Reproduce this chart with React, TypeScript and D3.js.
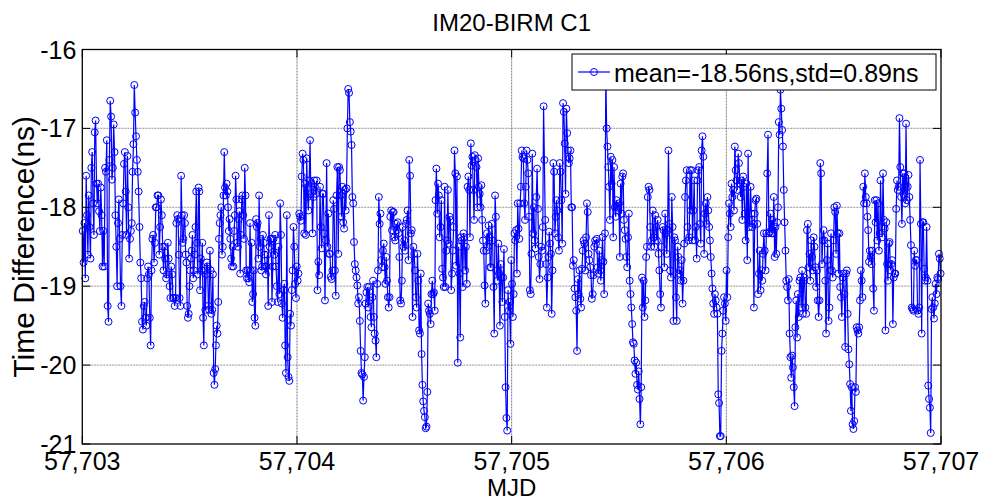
import React from "react";
import * as d3 from "d3";

const title = "IM20-BIRM C1";
const xLabel = "MJD";
const yLabel = "Time Difference(ns)";
const legendText = "mean=-18.56ns,std=0.89ns";
const xTicks = [57703, 57704, 57705, 57706, 57707];
const yTicks = [-21, -20, -19, -18, -17, -16];
const mjdStart = 57703;
const mjdEnd = 57707;

// Time difference values (ns), read segment by segment (9 equal MJD segments)
const seg0 = [-18.3, -18.7, -18.2, -18.9, -17.6, -18.1, -18.6, -17.85, -18.25, -18.65, -17.5, -17.3, -17.95, -18.35, -17.05, -16.9, -17.7, -17.95, -17.7, -18.05, -18.3, -17.75, -18.1, -18.75, -18.3, -18.75, -17.5, -17.55, -17.15, -19.25, -19.45, -17.4, -16.65, -16.85, -17.65, -17.5, -16.95, -17.3, -18.1, -18.5, -19.0, -18.2, -17.9, -18.4, -19.0, -19.25, -18.35, -17.95, -17.45, -17.3, -17.8, -18.35, -17.35, -18.0, -18.65, -18.4, -18.3, -18.2, -17.55, -17.2, -16.45, -16.8, -17.1, -17.4, -17.55, -17.8, -18.25, -18.7, -18.9, -19.45, -19.55, -19.25, -19.2, -19.4, -19.5, -18.9, -18.75, -18.85, -19.4, -19.75, -18.8, -18.4, -18.35, -18.7, -18.45, -18.0, -18.0, -17.85, -17.85, -18.6, -18.25, -17.9, -18.1, -18.5, -18.8, -18.5, -18.65, -18.9, -18.85, -18.45, -18.65, -19.0, -19.15, -18.75, -18.85, -19.15, -19.15, -19.25, -19.15, -18.2, -18.1];
const seg1 = [-18.15, -18.6, -19.15, -19.25, -17.6, -18.1, -18.45, -18.4, -18.1, -18.2, -18.6, -18.7, -19.25, -19.4, -19.35, -19.0, -18.8, -18.65, -18.55, -18.35, -18.9, -18.8, -18.6, -18.25, -17.8, -18.45, -18.85, -17.75, -17.8, -19.05, -18.65, -18.8, -18.45, -19.4, -19.75, -18.8, -19.3, -18.85, -18.7, -18.75, -19.25, -19.3, -18.55, -18.8, -19.35, -19.3, -18.85, -20.1, -20.25, -20.05, -19.75, -19.5, -19.6, -19.2, -18.4, -18.2, -18.1, -18.0, -18.6, -18.5, -17.85, -17.3, -17.75, -17.85, -17.7, -17.8, -18.0, -18.3, -18.15, -18.4, -18.65, -18.75, -18.5, -18.75, -18.3, -18.1, -17.6, -17.9, -18.45, -18.5, -18.15, -18.05, -18.84, -18.35, -17.9, -17.85, -18.1, -18.4, -17.5, -17.85, -18.8, -18.9, -18.8, -18.9, -18.95, -18.2, -18.8, -18.45, -19.2, -19.1, -18.8, -19.4, -19.5, -18.15, -18.25, -18.2, -18.65, -17.85, -18.5, -18.4, -18.8, -18.75, -18.35, -18.45, -18.6, -18.75, -18.85, -18.75, -18.6, -19.25, -18.1, -18.5, -18.4, -18.4, -19.2, -18.75];
const seg2 = [-18.4, -18.6, -18.35, -18.75, -19.0, -19.2, -18.5, -19.1, -17.95, -18.35, -19.22, -19.4, -19.05, -18.97, -19.75, -20.1, -18.1, -19.9, -20.15, -20.2, -19.35, -19.5, -19.05, -18.8, -18.25, -18.5, -18.97, -19.15, -18.75, -18.93, -18.84, -18.08, -18.12, -18.17, -17.61, -17.32, -17.4, -18.33, -17.7, -18.35, -17.38, -17.87, -18.04, -17.66, -17.15, -17.83, -17.7, -18.33, -17.87, -17.66, -17.74, -17.83, -17.66, -19.05, -18.69, -18.86, -17.74, -18.25, -18.52, -17.83, -17.83, -18.33, -19.18, -18.42, -17.44, -18.5, -18.08, -18.59, -18.59, -18.88, -18.91, -18.8, -17.91, -18.02, -18.8, -19.12, -17.85, -17.49, -18.59, -17.49, -17.53, -17.85, -18.12, -17.74, -18.19, -18.27, -17.78, -18.04, -17.76, -17.0, -16.5, -16.55, -16.92, -17.04, -17.21, -17.87, -17.95, -18.44, -18.72, -18.8, -18.89, -18.99, -19.22, -19.14, -19.44, -19.82, -20.1, -20.12, -20.45, -20.15, -19.9, -19.22, -19.08, -19.01, -19.27];
const seg3 = [-19.01, -19.18, -19.39, -19.52, -19.14, -18.93, -19.39, -19.6, -19.69, -19.9, -18.97, -18.8, -17.87, -18.21, -18.08, -18.67, -18.76, -18.55, -18.46, -18.76, -18.97, -18.63, -18.93, -19.14, -19.27, -19.14, -18.12, -18.04, -18.29, -18.06, -18.06, -18.38, -18.42, -18.21, -18.29, -18.19, -18.33, -18.63, -19.18, -19.22, -18.93, -18.25, -18.5, -18.42, -18.55, -18.21, -18.16, -18.04, -18.67, -17.4, -17.6, -18.33, -18.29, -19.39, -18.5, -18.59, -18.8, -19.14, -19.27, -18.59, -18.93, -19.56, -19.6, -18.84, -19.86, -20.25, -20.46, -20.58, -20.66, -20.8, -20.78, -20.34, -19.22, -19.31, -19.35, -19.48, -19.1, -18.93, -19.1, -19.08, -19.31, -17.91, -17.51, -18.08, -17.7, -17.85, -18.38, -18.25, -17.91, -18.78, -18.89, -19.01, -17.74, -19.01, -18.55, -18.42, -17.78, -18.46, -18.12, -18.16, -19.05, -18.84, -18.55, -18.25, -17.28, -17.57, -18.74, -17.61, -19.97, -18.5, -18.84, -19.65, -18.38, -18.42, -19.01, -18.33];
const seg4 = [-18.38, -18.8, -18.5, -18.97, -17.74, -17.61, -17.78, -18.38, -17.19, -17.47, -17.36, -17.78, -18.16, -17.34, -17.4, -17.49, -18.0, -17.38, -17.74, -17.83, -18.0, -17.72, -18.16, -18.42, -18.55, -18.99, -19.22, -18.55, -18.33, -18.5, -18.23, -18.38, -18.76, -18.76, -18.21, -18.42, -19.01, -19.6, -17.85, -18.12, -18.8, -18.93, -18.46, -18.84, -19.5, -18.72, -18.89, -19.2, -18.89, -18.53, -19.39, -20.28, -20.67, -20.83, -19.05, -19.31, -19.2, -19.73, -18.67, -18.97, -19.39, -19.1, -18.33, -18.42, -18.29, -18.84, -17.95, -18.27, -18.4, -17.95, -17.74, -17.28, -17.36, -17.38, -17.95, -18.16, -17.74, -17.28, -17.4, -17.57, -18.12, -19.05, -19.1, -18.59, -17.32, -18.33, -18.0, -18.42, -18.52, -17.87, -17.51, -18.02, -18.63, -18.91, -18.72, -18.5, -18.55, -18.25, -16.72, -17.4, -18.16, -18.72, -19.27, -18.89, -18.63, -18.31, -18.46, -18.59, -19.35, -18.8, -17.44, -17.55, -18.33, -18.12, -17.91, -18.04, -18.38, -18.55];
const seg5 = [-17.44, -17.55, -17.91, -18.46, -16.68, -16.79, -17.19, -17.83, -16.75, -17.06, -17.28, -17.44, -17.38, -17.28, -18.0, -18.0, -18.74, -18.67, -19.03, -19.14, -19.31, -19.82, -18.91, -19.1, -18.8, -19.16, -19.27, -18.78, -18.55, -18.42, -18.46, -18.8, -18.38, -17.95, -18.06, -18.59, -18.67, -18.76, -18.86, -19.16, -19.1, -18.86, -18.5, -18.42, -18.46, -18.4, -18.76, -18.84, -18.55, -18.8, -18.93, -18.67, -18.38, -18.69, -19.1, -18.33, -16.3, -17.0, -17.23, -17.49, -17.74, -18.16, -17.36, -17.7, -17.4, -18.38, -17.49, -18.0, -18.12, -17.91, -18.0, -17.98, -17.95, -18.63, -17.7, -18.08, -17.61, -17.57, -18.16, -18.29, -18.4, -18.63, -18.76, -18.38, -18.08, -18.93, -19.1, -19.27, -19.48, -19.71, -19.73, -19.94, -20.11, -19.97, -20.25, -20.31, -20.08, -20.43, -20.75, -20.28, -18.89, -19.27, -18.93, -19.39, -19.18, -18.63, -18.5, -17.87, -17.74, -17.78, -18.25, -18.5, -18.42, -18.04, -18.38, -18.5];
const seg6 = [-18.1, -18.25, -18.42, -18.16, -18.59, -18.8, -19.1, -19.27, -18.5, -18.25, -18.29, -18.76, -18.08, -18.33, -18.59, -18.29, -17.28, -18.21, -18.8, -18.89, -17.87, -18.25, -19.44, -18.38, -18.42, -19.14, -19.44, -18.5, -18.63, -18.84, -18.8, -18.93, -18.67, -19.22, -18.93, -18.46, -17.87, -17.66, -17.53, -18.25, -18.42, -18.38, -17.53, -18.04, -17.53, -18.42, -18.04, -17.66, -18.42, -18.25, -18.65, -17.66, -17.53, -17.49, -18.21, -18.46, -17.28, -17.1, -17.36, -18.59, -18.08, -17.95, -18.21, -17.87, -18.04, -18.25, -18.42, -18.63, -18.84, -19.03, -19.22, -19.35, -19.1, -19.18, -19.27, -19.35, -20.37, -20.48, -20.9, -20.9, -19.82, -19.6, -19.31, -19.14, -19.22, -19.44, -18.8, -19.14, -18.38, -17.95, -18.08, -18.25, -17.7, -17.87, -17.78, -18.04, -17.23, -17.53, -17.66, -17.78, -17.32, -17.44, -17.7, -17.87, -17.66, -18.16, -17.61, -17.74, -18.08, -18.42, -17.7, -18.67, -17.32, -18.25, -18.16];
const seg7 = [-17.74, -18.08, -18.25, -18.21, -19.27, -18.08, -17.91, -17.89, -18.21, -19.1, -18.84, -18.55, -19.05, -18.8, -18.93, -18.59, -18.33, -18.55, -18.8, -18.33, -17.57, -17.08, -18.33, -18.31, -18.08, -18.33, -18.16, -18.33, -17.87, -18.63, -18.25, -18.59, -18.19, -18.0, -16.92, -17.08, -16.51, -16.75, -17.02, -17.23, -17.78, -18.19, -18.55, -18.93, -19.01, -19.18, -18.91, -19.6, -19.9, -20.16, -19.88, -20.03, -20.28, -20.52, -19.52, -19.18, -19.65, -19.1, -19.39, -18.93, -18.89, -19.27, -18.8, -19.35, -18.93, -18.89, -19.27, -19.35, -18.29, -18.21, -18.76, -18.59, -18.93, -18.42, -18.63, -18.8, -18.38, -18.5, -18.76, -19.01, -18.8, -19.18, -19.39, -19.18, -17.44, -17.57, -18.72, -18.42, -18.29, -18.42, -18.93, -19.6, -18.67, -18.46, -19.44, -19.27, -18.8, -18.33, -18.8, -18.89, -18.42, -18.0, -18.06, -18.59, -17.98, -18.33, -18.84, -18.33, -19.01, -19.14, -19.39, -18.89, -18.84, -19.1, -19.77];
const seg8 = [-18.84, -18.8, -19.35, -19.8, -19.99, -20.24, -20.58, -20.28, -20.75, -20.81, -20.71, -20.28, -20.34, -19.52, -19.56, -19.6, -19.52, -19.18, -18.8, -18.93, -19.14, -17.74, -17.95, -17.57, -17.87, -17.95, -18.12, -18.29, -18.69, -18.55, -18.63, -18.72, -18.55, -19.03, -19.31, -17.91, -18.19, -17.91, -18.42, -17.95, -18.55, -18.33, -17.66, -18.25, -18.38, -17.57, -18.16, -18.27, -19.56, -18.19, -18.72, -18.93, -18.46, -18.44, -18.8, -18.72, -18.67, -19.48, -18.89, -18.84, -18.84, -18.02, -17.66, -17.78, -17.74, -16.87, -17.49, -17.87, -18.21, -17.57, -17.83, -17.57, -17.95, -16.94, -17.91, -17.74, -17.59, -17.87, -18.16, -18.48, -19.27, -19.29, -19.31, -18.55, -18.74, -18.67, -18.67, -19.31, -19.35, -19.27, -17.4, -18.21, -19.6, -18.19, -18.19, -18.78, -18.93, -18.89, -18.25, -18.93, -20.26, -20.43, -20.54, -20.86, -19.29, -19.14, -19.27, -19.41, -19.22, -18.97, -19.1, -18.89, -18.91, -18.59, -18.65, -18.84];

const segments = [seg0, seg1, seg2, seg3, seg4, seg5, seg6, seg7, seg8];

type Pt = { mjd: number; v: number };
const data: Pt[] = [];
segments.forEach((seg, i) => {
  const span = (mjdEnd - mjdStart) / segments.length;
  seg.forEach((v, j) => {
    data.push({ mjd: mjdStart + span * (i + (j + 0.5) / seg.length), v });
  });
});

const W = 986;
const H = 501;
const FONT = "Arial, 'Liberation Sans', Helvetica, sans-serif";
const BLUE = "#0000ff";

export default function App() {
  const left = 82.3, right = 941, top = 49.5, bottom = 444;
  const x = d3.scaleLinear().domain([mjdStart, mjdEnd]).range([left, right]);
  const y = d3.scaleLinear().domain([-21, -16]).range([bottom, top]);
  const line = d3.line<Pt>().x((d) => x(d.mjd)).y((d) => y(d.v));
  const fmt = d3.format(",");
  const tickLen = 8;

  return (
    <svg width={W} height={H} style={{ position: "absolute", left: 0, top: 0, background: "#fff" }} fontFamily={FONT}>
      <rect x={0} y={0} width={W} height={H} fill="#fff" />
      {/* grid */}
      {yTicks.slice(1, -1).map((t) => (
        <line key={"gy" + t} x1={left} x2={right} y1={y(t)} y2={y(t)} stroke="#a8a8a8" strokeWidth={1.3} strokeDasharray="2,1" />
      ))}
      {xTicks.slice(1, -1).map((t) => (
        <line key={"gx" + t} x1={x(t)} x2={x(t)} y1={top} y2={bottom} stroke="#6a6a6a" strokeWidth={0.9} strokeDasharray="2,1" />
      ))}
      {/* data */}
      <path d={line(data) || ""} fill="none" stroke={BLUE} strokeWidth={1.2} />
      {data.map((d, i) => (
        <circle key={i} cx={x(d.mjd)} cy={y(d.v)} r={3.5} fill="none" stroke={BLUE} strokeWidth={1} />
      ))}
      {/* box */}
      <rect x={left} y={top} width={right - left} height={bottom - top} fill="none" stroke="#000" strokeWidth={1.3} />
      {/* ticks */}
      {yTicks.map((t) => (
        <g key={"ty" + t}>
          <line x1={left} x2={left + tickLen} y1={y(t)} y2={y(t)} stroke="#000" />
          <line x1={right} x2={right - tickLen} y1={y(t)} y2={y(t)} stroke="#000" />
          <text x={left - 6} y={y(t)} dy="0.36em" textAnchor="end" fontSize={25} fill="#000">{t}</text>
        </g>
      ))}
      {xTicks.map((t) => (
        <g key={"tx" + t}>
          <line x1={x(t)} x2={x(t)} y1={bottom} y2={bottom - tickLen} stroke="#000" />
          <line x1={x(t)} x2={x(t)} y1={top} y2={top + tickLen} stroke="#000" />
          <text x={x(t)} y={470} textAnchor="middle" fontSize={25} fill="#000">{fmt(t)}</text>
        </g>
      ))}
      {/* labels */}
      <text x={(left + right) / 2} y={31} textAnchor="middle" fontSize={24} fill="#000">{title}</text>
      <text x={(left + right) / 2} y={496} textAnchor="middle" fontSize={24} fill="#000">{xLabel}</text>
      <text transform={`translate(34,${(top + bottom) / 2}) rotate(-90)`} textAnchor="middle" fontSize={30} fill="#000">{yLabel}</text>
      {/* legend */}
      <g>
        <rect x={572} y={54} width={364} height={36} fill="#fff" stroke="#000" strokeWidth={1} />
        <line x1={578} x2={610} y1={72} y2={72} stroke={BLUE} strokeWidth={1.2} />
        <circle cx={594} cy={72} r={3.5} fill="none" stroke={BLUE} strokeWidth={1} />
        <text x={614} y={81.5} fontSize={25} fill="#000">{legendText}</text>
      </g>
    </svg>
  );
}
